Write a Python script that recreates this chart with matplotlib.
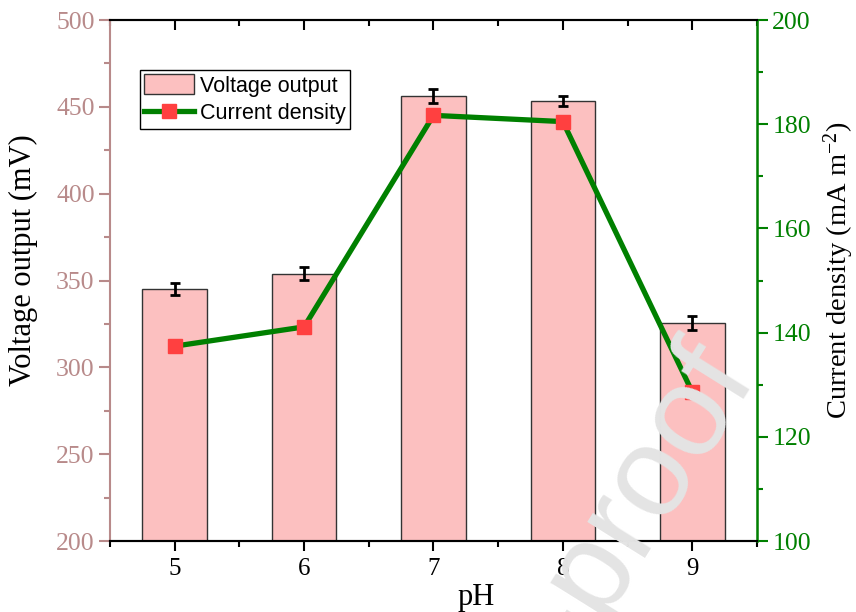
import numpy as np
import matplotlib
matplotlib.use('Agg')
import matplotlib.pyplot as plt

ph = [5, 6, 7, 8, 9]
voltage = [345.0, 354.0, 456.5, 453.5, 325.5]
voltage_err = [3.6, 3.5, 4.0, 2.8, 3.8]
current = [137.4, 141.1, 181.7, 180.5, 128.6]

left_color = '#B88A8A'
green = '#008000'

plt.rcParams['font.family'] = 'Liberation Serif'
plt.rcParams['mathtext.fontset'] = 'custom'
plt.rcParams['mathtext.rm'] = 'Liberation Serif'
plt.rcParams['mathtext.it'] = 'Liberation Serif:italic'

fig = plt.figure(figsize=(8.56, 6.12), dpi=100)
ax = fig.add_axes([0.1285, 0.1160, 0.7558, 0.8513])
ax2 = ax.twinx()

bars = ax.bar(ph, voltage, width=0.5, color='#FCC0C0', edgecolor='#333333',
              linewidth=1.0, zorder=2, label='Voltage output')
ax.errorbar(ph, voltage, yerr=voltage_err, fmt='none', ecolor='black',
            elinewidth=2.0, capsize=3.8, capthick=2.0, zorder=3)

line, = ax2.plot(ph, current, color=green, linewidth=3.8, marker='s',
                 markersize=10.5, markerfacecolor='#FF4040', markeredgecolor='#FF4040',
                 label='Current density', zorder=4)

ax.set_xlim(4.5, 9.5)
ax.set_ylim(200, 500)
ax2.set_ylim(100, 200)
ax.set_xticks(ph)
ax.set_xticks(np.arange(4.5, 9.6, 0.5), minor=True)
ax.set_yticks(np.arange(200, 501, 50))
ax.set_yticks(np.arange(225, 500, 50), minor=True)
ax2.set_yticks(np.arange(100, 201, 20))
ax2.set_yticks(np.arange(110, 200, 20), minor=True)

ax.tick_params(axis='x', which='major', direction='out', length=7, width=1.5,
               labelsize=18, top=True, pad=5)
ax.tick_params(axis='x', which='minor', direction='out', length=4, width=1.5, top=True)
ax.tick_params(axis='y', which='major', direction='out', length=8, width=1.5,
               color=left_color, labelcolor=left_color, labelsize=18.5, pad=3)
ax.tick_params(axis='y', which='minor', direction='out', length=4, width=1.5,
               color=left_color)
ax2.tick_params(axis='y', which='major', direction='out', length=8, width=1.5,
                color=green, labelcolor=green, labelsize=18.5, pad=3)
ax2.tick_params(axis='y', which='minor', direction='out', length=4, width=1.5,
                color=green)

# top axis ticks point inward
for t in ax.xaxis.get_major_ticks() + ax.xaxis.get_minor_ticks():
    t.tick2line.set_marker(3)

for sp in ['top', 'bottom']:
    ax.spines[sp].set_linewidth(1.5)
    ax2.spines[sp].set_linewidth(1.5)
ax.spines['left'].set_color(left_color)
ax.spines['left'].set_linewidth(1.5)
ax2.spines['left'].set_visible(False)
ax2.spines['right'].set_color(green)
ax2.spines['right'].set_linewidth(1.8)

ax.set_xlabel('pH', fontsize=22)
ax.xaxis.set_label_coords(0.566, -0.080)
ax.set_ylabel('Voltage output (mV)', fontsize=22)
ax.yaxis.set_label_coords(-0.112, 0.54)
ax2.set_ylabel('Current density (mA m$^{-2}$)', fontsize=20.5)
ax2.yaxis.set_label_coords(1.099, 0.52)

leg = ax.legend([bars, line], ['Voltage output', 'Current density'],
                loc='upper left', bbox_to_anchor=(0.046, 0.904),
                prop={'family': 'Liberation Sans', 'size': 15.5},
                fancybox=False, framealpha=1, edgecolor='black',
                borderpad=0.2, handlelength=2.3, handleheight=1.05,
                handletextpad=0.3, labelspacing=0.25, borderaxespad=0)
leg.get_frame().set_linewidth(1.0)

# watermark
fig.text(758 / 856, 1 - 378 / 612, 'Journal Pre-proof', fontsize=92,
         family='Liberation Sans', color='#E4E4E4', rotation=58,
         rotation_mode='anchor', ha='right', va='baseline', zorder=10)

fig.savefig('out.png', dpi=100)
